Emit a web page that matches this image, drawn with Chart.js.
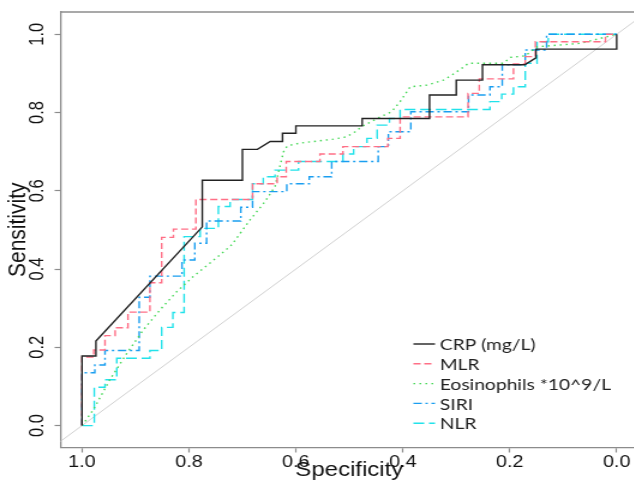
<!DOCTYPE html>
<html>
<head>
<meta charset="utf-8">
<script src="https://cdn.jsdelivr.net/npm/chart.js"></script>
<style>
  html, body { margin: 0; padding: 0; overflow: hidden; background: #fff; }
  /* the reference is stretched sideways, so draw narrow and stretch */
  #wrap { width: 534px; height: 480px; transform: scaleX(1.2); transform-origin: 0 0; }
</style>
</head>
<body>
<div id="wrap"><canvas id="rocChart"></canvas></div>
<script>
const xTicks = [0, 0.2, 0.4, 0.6, 0.8, 1.0];
const yTicks = [0, 0.2, 0.4, 0.6, 0.8, 1.0];

const seriesNames = ["CRP (mg/L)", "MLR", "Eosinophils *10^9/L", "SIRI", "NLR"];

// specificity / sensitivity pairs
const crpSpec = [1, 1, 0.974, 0.974, 0.775, 0.775, 0.700, 0.700, 0.672, 0.648, 0.625, 0.625, 0.600, 0.600, 0.476, 0.476, 0.350, 0.350, 0.300, 0.300, 0.251, 0.251, 0.172, 0.151, 0.151, 0, 0];
const crpSens = [0, 0.178, 0.178, 0.216, 0.508, 0.627, 0.627, 0.706, 0.706, 0.726, 0.726, 0.747, 0.747, 0.766, 0.766, 0.785, 0.785, 0.845, 0.845, 0.883, 0.883, 0.922, 0.922, 0.940, 0.962, 0.962, 1.0];

const mlrSpec = [1, 1, 0.978, 0.978, 0.957, 0.957, 0.938, 0.938, 0.914, 0.914, 0.873, 0.873, 0.851, 0.851, 0.829, 0.829, 0.787, 0.787, 0.681, 0.681, 0.635, 0.635, 0.618, 0.618, 0.555, 0.555, 0.512, 0.512, 0.428, 0.428, 0.405, 0.405, 0.278, 0.278, 0.257, 0.257, 0.193, 0.193, 0.171, 0.171, 0.152, 0.152, 0.021, 0.021, 0];
const mlrSens = [0, 0.175, 0.175, 0.193, 0.193, 0.230, 0.230, 0.250, 0.250, 0.290, 0.290, 0.365, 0.365, 0.481, 0.481, 0.502, 0.502, 0.578, 0.578, 0.618, 0.618, 0.636, 0.636, 0.675, 0.675, 0.694, 0.694, 0.713, 0.713, 0.734, 0.734, 0.789, 0.789, 0.849, 0.849, 0.886, 0.886, 0.924, 0.924, 0.943, 0.943, 0.981, 0.981, 1.0, 1.0];

const eosSpec = [1, 0.979, 0.948, 0.916, 0.885, 0.854, 0.823, 0.792, 0.761, 0.742, 0.720, 0.686, 0.658, 0.639, 0.630, 0.623, 0.616, 0.592, 0.561, 0.530, 0.505, 0.489, 0.477, 0.442, 0.421, 0.405, 0.386, 0.355, 0.324, 0.308, 0.290, 0.277, 0.212, 0.199, 0.171, 0.149, 0.068, 0];
const eosSens = [0, 0.040, 0.117, 0.185, 0.245, 0.296, 0.342, 0.381, 0.415, 0.436, 0.462, 0.525, 0.572, 0.611, 0.662, 0.700, 0.715, 0.722, 0.727, 0.732, 0.738, 0.751, 0.764, 0.789, 0.802, 0.828, 0.866, 0.870, 0.883, 0.896, 0.913, 0.926, 0.926, 0.941, 0.945, 0.968, 0.977, 1.0];

const siriSpec = [1, 1, 0.976, 0.976, 0.957, 0.957, 0.893, 0.893, 0.873, 0.873, 0.813, 0.813, 0.789, 0.789, 0.767, 0.767, 0.703, 0.703, 0.681, 0.681, 0.617, 0.617, 0.575, 0.575, 0.533, 0.533, 0.446, 0.446, 0.427, 0.427, 0.385, 0.385, 0.277, 0.277, 0.237, 0.237, 0.214, 0.214, 0.171, 0.171, 0.131, 0.131, 0];
const siriSens = [0, 0.135, 0.135, 0.155, 0.155, 0.192, 0.192, 0.328, 0.328, 0.382, 0.382, 0.423, 0.423, 0.466, 0.466, 0.523, 0.523, 0.558, 0.558, 0.598, 0.598, 0.618, 0.618, 0.636, 0.636, 0.675, 0.675, 0.713, 0.713, 0.751, 0.751, 0.802, 0.802, 0.845, 0.845, 0.866, 0.866, 0.922, 0.922, 0.960, 0.960, 1.0, 1.0];

const nlrSpec = [1, 0.977, 0.977, 0.957, 0.957, 0.935, 0.935, 0.873, 0.873, 0.851, 0.851, 0.830, 0.830, 0.809, 0.809, 0.779, 0.779, 0.745, 0.745, 0.723, 0.723, 0.681, 0.681, 0.661, 0.661, 0.639, 0.639, 0.595, 0.595, 0.512, 0.512, 0.492, 0.492, 0.467, 0.467, 0.448, 0.448, 0.425, 0.425, 0.405, 0.405, 0.237, 0.237, 0.215, 0.215, 0.193, 0.193, 0.171, 0.171, 0.149, 0.149, 0.128, 0.128, 0];
const nlrSens = [0, 0, 0.098, 0.098, 0.117, 0.117, 0.172, 0.172, 0.192, 0.192, 0.251, 0.251, 0.289, 0.289, 0.483, 0.483, 0.504, 0.504, 0.560, 0.560, 0.578, 0.578, 0.618, 0.618, 0.636, 0.636, 0.653, 0.653, 0.675, 0.675, 0.694, 0.694, 0.713, 0.713, 0.734, 0.734, 0.768, 0.768, 0.785, 0.785, 0.808, 0.808, 0.828, 0.828, 0.847, 0.847, 0.866, 0.866, 0.926, 0.926, 0.981, 0.981, 1.0, 1.0];

// chance line
const diagSpec = [1.1, -0.1];
const diagSens = [-0.1, 1.1];

function puntos(xs, ys) {
  return xs.map((x, i) => ({x: x, y: ys[i]}));
}

function serie(label, xs, ys, color, dash, width) {
  return {
    label: label,
    data: puntos(xs, ys),
    borderColor: color,
    backgroundColor: color,
    borderDash: dash,
    borderWidth: width,
    showLine: true,
    pointRadius: 0,
    tension: 0,
    fill: false
  };
}

const datasets = [
  serie(seriesNames[0], crpSpec, crpSens, "#222222", [], 1.4),
  serie(seriesNames[1], mlrSpec, mlrSens, "#ff6f86", [6, 3], 1.4),
  serie(seriesNames[2], eosSpec, eosSens, "#44d855", [1.5, 3.5], 1.4),
  serie(seriesNames[3], siriSpec, siriSens, "#1a9ef0", [7, 3, 2, 3], 1.4),
  serie(seriesNames[4], nlrSpec, nlrSens, "#22e2ea", [9, 4], 1.4),
  serie("diag", diagSpec, diagSens, "#d0d0d0", [], 1)
];

const axisGray = "#8c8c8c";

// top frame line, rotated y labels and the legend
const extras = {
  id: "extras",
  afterDraw(chart) {
    const ctx = chart.ctx;
    const area = chart.chartArea;
    ctx.save();
    ctx.strokeStyle = axisGray;
    ctx.lineWidth = 1.3;
    ctx.beginPath();
    ctx.moveTo(area.left, area.top);
    ctx.lineTo(chart.width, area.top);
    ctx.stroke();

    ctx.fillStyle = "#111";
    ctx.font = '16.5px "Liberation Sans"';
    ctx.textAlign = "center";
    ctx.textBaseline = "middle";
    yTicks.forEach(v => {
      const y = chart.scales.y.getPixelForValue(v);
      ctx.save();
      ctx.translate(area.left - 19, y);
      ctx.rotate(-Math.PI / 2);
      ctx.fillText(v.toFixed(1), 0, 0);
      ctx.restore();
    });

    ctx.font = '16px Lato';
    ctx.textAlign = "left";
    for (let i = 0; i < seriesNames.length; i++) {
      const ds = chart.data.datasets[i];
      const y = 344 + i * 19.8;
      ctx.strokeStyle = ds.borderColor;
      ctx.lineWidth = ds.borderWidth;
      ctx.setLineDash(ds.borderDash);
      ctx.beginPath();
      ctx.moveTo(344.5, y);
      ctx.lineTo(362.5, y);
      ctx.stroke();
      ctx.setLineDash([]);
      ctx.fillStyle = "#222";
      ctx.fillText(seriesNames[i], 366.5, y + 1);
    }
    ctx.restore();
  }
};

new Chart("rocChart", {
  type: "scatter",
  data: { datasets: datasets },
  plugins: [extras],
  options: {
    responsive: true,
    maintainAspectRatio: false,
    animation: false,
    layout: { padding: { top: 12, right: 2.3, left: 0, bottom: 0 } },
    scales: {
      x: {
        type: "linear",
        reverse: true,
        min: -0.04,
        max: 1.04,
        afterBuildTicks: s => { s.ticks = xTicks.map(v => ({value: v})); },
        afterFit: s => { s.height = 32.5; },
        border: { color: axisGray, width: 1.3 },
        grid: { drawOnChartArea: false, drawTicks: true, tickLength: 5, color: axisGray, tickColor: axisGray, tickWidth: 1.2 },
        ticks: {
          autoSkip: false,
          maxRotation: 0,
          padding: 0,
          color: "#111",
          font: { family: "Liberation Sans", size: 16.5 },
          callback: v => v.toFixed(1)
        },
        title: {
          display: true,
          text: "Specificity",
          color: "#111",
          padding: 0,
          font: { family: "Liberation Sans", size: 20, lineHeight: 1 }
        }
      },
      y: {
        type: "linear",
        min: -0.056,
        max: 1.057,
        afterBuildTicks: s => { s.ticks = yTicks.map(v => ({value: v})); },
        afterFit: s => { s.width = 50.5; },
        border: { color: axisGray, width: 1.3 },
        grid: { drawOnChartArea: false, drawTicks: true, tickLength: 5, color: axisGray, tickColor: axisGray, tickWidth: 1.2 },
        ticks: { display: false },
        title: {
          display: true,
          text: "Sensitivity",
          color: "#111",
          padding: { top: 4.5, bottom: 0 },
          font: { family: "Liberation Sans", size: 21, lineHeight: 1 }
        }
      }
    },
    plugins: {
      legend: { display: false },
      tooltip: { enabled: false }
    }
  }
});
</script>
</body>
</html>
